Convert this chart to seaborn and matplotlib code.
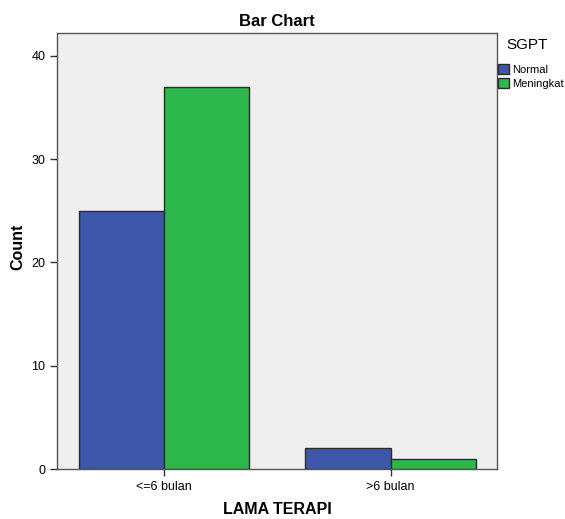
import pandas as pd
import matplotlib.pyplot as plt
import seaborn as sns

# Data
lama_terapi = ["<=6 bulan", "<=6 bulan", ">6 bulan", ">6 bulan"]
sgpt = ["Normal", "Meningkat", "Normal", "Meningkat"]
counts = [25, 37, 2, 1]

data = pd.DataFrame({"LAMA TERAPI": lama_terapi, "SGPT": sgpt, "Count": counts})

sns.set_style("ticks")
plt.rcParams["font.family"] = ["Liberation Sans", "DejaVu Sans"]
plt.rcParams["text.color"] = "black"
plt.rcParams["axes.labelcolor"] = "black"
plt.rcParams["xtick.color"] = "black"
plt.rcParams["ytick.color"] = "black"

fig = plt.figure(figsize=(5.65, 5.19), dpi=100)
ax = fig.add_axes([0.101, 0.0963, 0.779, 0.8401])

sns.barplot(
    data=data, x="LAMA TERAPI", y="Count", hue="SGPT",
    hue_order=["Normal", "Meningkat"],
    palette=["#3d57ab", "#2db84b"],
    width=0.75, edgecolor="#2b2b2b", linewidth=1.0,
    saturation=1, ax=ax,
)

ax.set_facecolor("#efefef")
ax.set_xlim(-0.47, 1.47)
ax.set_ylim(0, 42.2)
ax.set_yticks([0, 10, 20, 30, 40])
ax.tick_params(axis="both", labelsize=9, length=5, width=1, color="#333333")
for side in ["top", "right", "left", "bottom"]:
    ax.spines[side].set_visible(True)
    ax.spines[side].set_color("#555555")
    ax.spines[side].set_linewidth(1.0)

ax.set_title("Bar Chart", fontsize=12, fontweight="bold", pad=5)
ax.set_xlabel("LAMA TERAPI", fontsize=11.5, fontweight="bold")
ax.set_ylabel("Count", fontsize=11.5, fontweight="bold")
ax.xaxis.set_label_coords(0.5, -0.075)
ax.yaxis.set_label_coords(-0.073, 0.51)

fig.text(527 / 565, 1 - 45 / 519, "SGPT", fontsize=11, ha="center", va="center")

leg = ax.legend(
    loc="upper left", bbox_to_anchor=(1.0, 0.932),
    frameon=False, fontsize=8,
    handlelength=1.0, handleheight=1.0, handletextpad=0.2,
    labelspacing=0.3, borderaxespad=0.0, borderpad=0.1,
)
for h in leg.legend_handles:
    h.set_edgecolor("#2b2b2b")

fig.savefig("out.png", dpi=100)
